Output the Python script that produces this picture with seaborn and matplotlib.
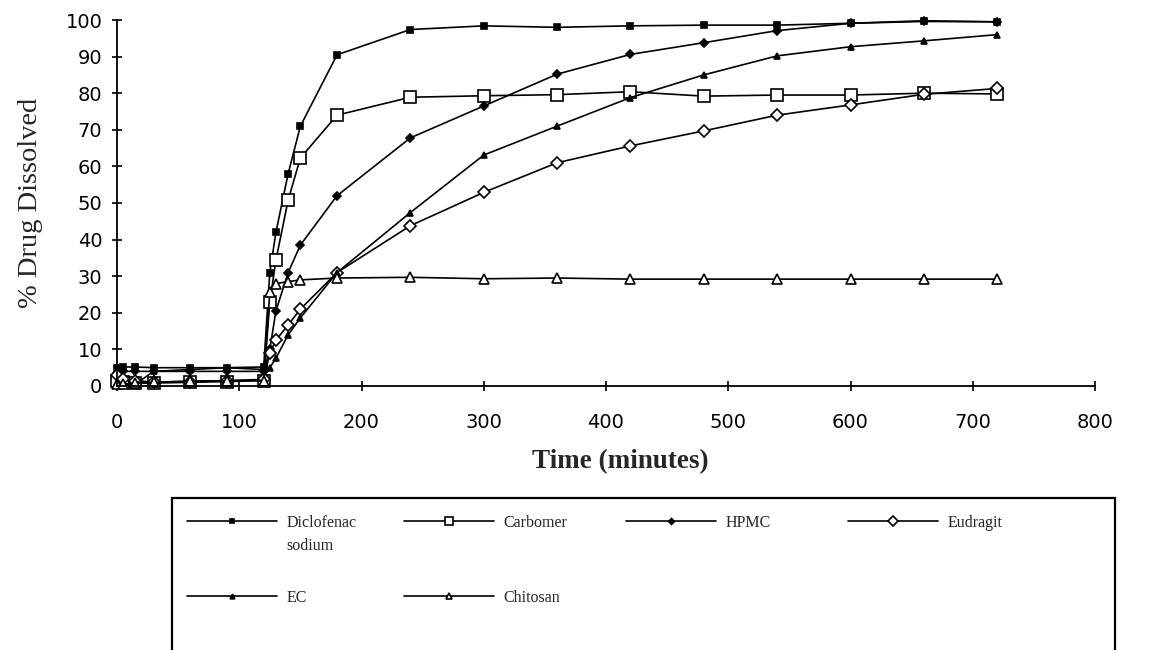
import matplotlib
matplotlib.use("Agg")
import matplotlib.pyplot as plt
import seaborn as sns
from matplotlib.patches import Rectangle

# Sampling times (minutes): 2 h acid stage, then buffer stage
time_min = [0, 5, 15, 30, 60, 90, 120, 125, 130, 140, 150, 180,
            240, 300, 360, 420, 480, 540, 600, 660, 720]

# Cumulative % drug dissolved for each formulation
diclofenac = [5.0, 5.2, 5.2, 5.0, 5.0, 5.0, 5.2, 31.0, 42.0, 58.0, 71.0, 90.5,
              97.4, 98.4, 98.0, 98.4, 98.6, 98.6, 99.1, 99.6, 99.5]
carbomer = [1.5, 1.0, 0.8, 0.8, 1.0, 1.2, 1.5, 23.0, 34.4, 50.8, 62.3, 74.0,
            78.9, 79.3, 79.6, 80.4, 79.2, 79.5, 79.5, 80.0, 79.8]
hpmc = [3.5, 4.0, 4.0, 4.0, 4.0, 4.0, 4.0, 10.0, 20.5, 31.0, 38.5, 52.0,
        67.8, 76.5, 85.2, 90.6, 93.8, 97.1, 99.1, 99.8, 99.5]
eudragit = [3.0, 2.0, 1.5, 1.0, 1.2, 1.5, 1.8, 9.0, 12.5, 16.7, 21.0, 31.0,
            43.8, 52.9, 61.0, 65.6, 69.7, 74.0, 76.8, 79.7, 81.3]
ec = [0.5, 0.5, 0.5, 4.0, 4.5, 5.0, 4.5, 5.0, 7.6, 14.0, 18.6, 31.0,
      47.4, 63.1, 71.0, 78.8, 85.0, 90.2, 92.7, 94.3, 96.0]
chitosan = [0.5, 0.5, 0.8, 1.0, 1.4, 1.4, 1.5, 25.7, 28.0, 28.5, 29.0, 29.5,
            29.7, 29.3, 29.5, 29.2, 29.2, 29.2, 29.2, 29.2, 29.2]

labels = ["Diclofenac", "Carbomer", "HPMC", "Eudragit", "EC", "Chitosan"]
x_ticks = list(range(0, 801, 100))
y_ticks = list(range(0, 101, 10))

sns.set_style("ticks")
plt.rcParams["font.family"] = ["DejaVu Sans"]

W, H = 1153, 650
fig = plt.figure(figsize=(W / 100, H / 100), dpi=100)
ax = fig.add_axes([117 / W, 1 - 386 / H, (1095 - 117) / W, (386 - 20) / H])

styles = [
    dict(marker="s", markersize=4.5, markerfacecolor="black"),
    dict(marker="s", markersize=8, markerfacecolor="white"),
    dict(marker="D", markersize=4, markerfacecolor="black"),
    dict(marker="D", markersize=6.5, markerfacecolor="white"),
    dict(marker="^", markersize=4.5, markerfacecolor="black"),
    dict(marker="^", markersize=6.5, markerfacecolor="white"),
]
series = [diclofenac, carbomer, hpmc, eudragit, ec, chitosan]

for name, vals, st in zip(labels, series, styles):
    sns.lineplot(x=time_min, y=vals, ax=ax, color="black", linewidth=1.2,
                 markeredgecolor="black", markeredgewidth=1.2,
                 label=name, sort=False, estimator=None, legend=False,
                 clip_on=False, **st)

ax.set_xlim(0, 800)
ax.set_ylim(0, 100)
ax.set_xticks(x_ticks)
ax.set_yticks(y_ticks)
sns.despine(ax=ax)
for side in ("left", "bottom"):
    ax.spines[side].set_linewidth(1.3)
    ax.spines[side].set_color("black")

ax.tick_params(axis="both", direction="inout", length=7, width=1.2,
               labelsize=14, colors="black")
ax.tick_params(axis="x", pad=16)
ax.tick_params(axis="y", pad=7)

ax.set_xlabel("Time (minutes)", fontfamily="Liberation Serif",
              fontweight="bold", fontsize=19.5)
ax.xaxis.set_label_coords(0.515, -0.172)
ax.set_ylabel("% Drug Dissolved", fontfamily="Liberation Serif", fontsize=20.5)
ax.yaxis.set_label_coords(-0.076, 0.5)

# Legend: one entry per slot, laid out in a boxed grid below the axes
handles, hlabels = ax.get_legend_handles_labels()
slots = {
    "Diclofenac": (187, 523), "Carbomer": (404, 523),
    "HPMC": (626, 523), "Eudragit": (848, 523),
    "EC": (187, 598), "Chitosan": (404, 598),
}
legend_font = dict(family="Liberation Serif", size=11.5)
for h, lab in zip(handles, hlabels):
    x0, y0 = slots[lab]
    fig.legend(handles=[h], labels=[lab], loc="center left",
               bbox_to_anchor=(x0 / W, 1 - y0 / H), frameon=False,
               borderpad=0, borderaxespad=0, handlelength=5.65,
               handletextpad=0.56, numpoints=1, markerscale=0.75,
               prop=legend_font)
fig.text(286 / W, 1 - 546 / H, "sodium", ha="left", va="center",
         fontfamily="Liberation Serif", fontsize=11.5)

frame = Rectangle((172 / W, -0.05), (1115 - 172) / W, (1 - 498 / H) + 0.05,
                  transform=fig.transFigure, fill=False, edgecolor="black",
                  linewidth=1.6)
fig.add_artist(frame)

fig.savefig("out.png", dpi=100)
